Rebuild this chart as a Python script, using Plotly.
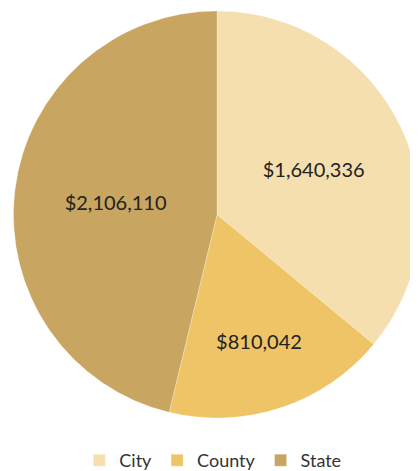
import plotly.graph_objects as go

labels = ["City", "County", "State"]
values = [1640336, 810042, 2106110]
colors = ["#f5dfae", "#efc467", "#c8a560"]

fig = go.Figure(go.Pie(
    labels=labels,
    values=values,
    sort=False,
    direction="clockwise",
    rotation=0,
    marker=dict(colors=colors, line=dict(color="rgba(255,255,255,0.5)", width=0.5)),
    texttemplate="$%{value:,}",
    textposition="inside",
    insidetextorientation="horizontal",
    textfont=dict(family="Lato", size=20, color="#222222"),
    hoverinfo="label+value",
))

fig.update_layout(
    width=418, height=471,
    margin=dict(l=0, r=0, t=3, b=52),
    paper_bgcolor="white",
    showlegend=True,
    legend=dict(orientation="h", x=0.49, xanchor="center", y=-0.105, yanchor="middle",
                font=dict(family="Lato", size=18, color="#333333"),
                itemwidth=30, tracegroupgap=0),
)

fig.write_html("out.html")
